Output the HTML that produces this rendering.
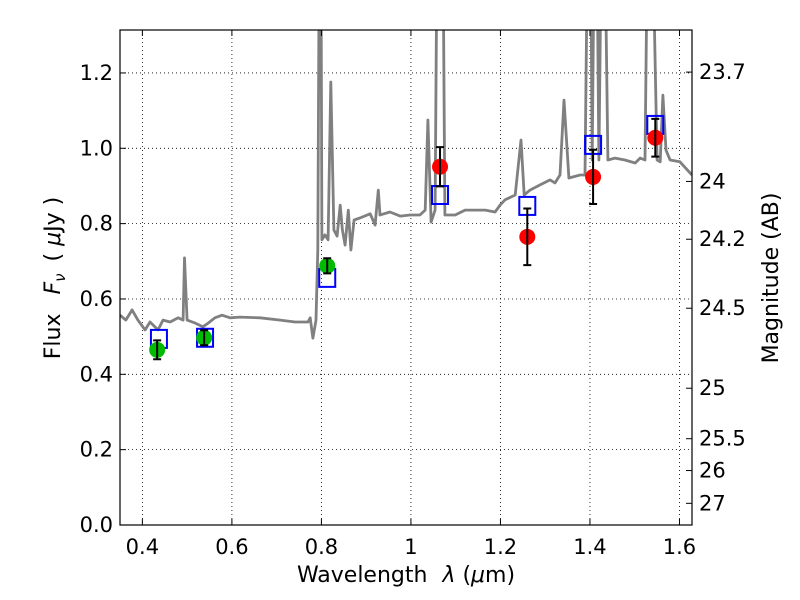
<!DOCTYPE html>
<html><head><meta charset="utf-8"><style>
html,body{margin:0;padding:0;background:#fff;}
svg{display:block;font-family:"DejaVu Sans","Liberation Sans",sans-serif;}
</style></head><body>
<svg id="chart" width="800" height="600" viewBox="0 0 800 600" xmlns="http://www.w3.org/2000/svg">
<defs><clipPath id="clip"><rect x="120" y="30" width="572" height="495"/></clipPath></defs>
<rect width="800" height="600" fill="#fff"/>
<g id="grid"></g>
<g id="spec" clip-path="url(#clip)"></g>
<g id="marks" clip-path="url(#clip)"></g>
<rect x="120" y="30" width="572" height="495" fill="none" stroke="#000" stroke-width="1.2"/>
<g id="axes"></g>
<text x="406" y="582" font-size="22" text-anchor="middle">Wavelength  <tspan font-style="italic" dx="8">λ</tspan> (<tspan font-style="italic">μ</tspan>m)</text>
<text transform="translate(60,278) rotate(-90)" font-size="22" text-anchor="middle">Flux <tspan font-style="italic" dx="12">F</tspan><tspan font-style="italic" font-size="15" dy="5">ν</tspan><tspan dy="-5" dx="12">( </tspan><tspan font-style="italic">μ</tspan>Jy )</text>
<text transform="translate(778,278) rotate(-90)" font-size="22" text-anchor="middle">Magnitude (AB)</text>
</svg>
<script>
const specLam=[0.350,0.363,0.377,0.390,0.406,0.417,0.435,0.446,0.462,0.480,0.491,0.494,0.500,0.518,0.535,0.547,0.562,0.578,0.596,0.618,0.663,0.708,0.741,0.770,0.775,0.781,0.788,0.792,0.795,0.799,0.801,0.808,0.815,0.821,0.828,0.835,0.842,0.847,0.853,0.860,0.866,0.873,0.886,0.909,0.920,0.927,0.931,0.953,0.976,0.998,1.020,1.032,1.038,1.045,1.054,1.058,1.072,1.076,1.099,1.121,1.143,1.166,1.188,1.199,1.210,1.233,1.246,1.253,1.266,1.289,1.311,1.322,1.333,1.342,1.353,1.378,1.389,1.394,1.402,1.405,1.409,1.416,1.420,1.425,1.434,1.440,1.456,1.478,1.501,1.512,1.523,1.528,1.541,1.550,1.557,1.563,1.570,1.579,1.601,1.628];
const specFlux=[0.557,0.544,0.571,0.544,0.518,0.539,0.518,0.544,0.539,0.550,0.544,0.709,0.544,0.536,0.526,0.536,0.550,0.557,0.550,0.552,0.550,0.544,0.539,0.539,0.550,0.496,0.544,0.730,1.5,1.5,0.757,0.770,0.757,1.176,0.783,0.767,0.849,0.783,0.743,0.836,0.730,0.810,0.815,0.826,0.796,0.889,0.823,0.831,0.820,0.823,0.823,0.836,1.075,0.804,0.836,1.5,1.5,0.823,0.823,0.836,0.836,0.836,0.831,0.849,0.863,0.876,1.022,0.876,0.889,0.903,0.916,0.908,0.929,1.128,0.921,0.929,0.929,1.5,1.5,0.969,1.5,1.5,0.969,1.5,1.5,0.969,0.974,0.969,0.961,0.974,0.969,1.5,1.5,0.969,0.964,1.141,0.995,0.969,0.964,0.929];
const obsLam=[0.433,0.538,0.813,1.065,1.260,1.407,1.546];
const obsFlux=[0.465,0.497,0.688,0.951,0.765,0.924,1.028];
const obsErr=[0.025,0.02,0.02,0.052,0.075,0.072,0.05];
const obsColor=['#00bb00','#00bb00','#00bb00','#ff0000','#ff0000','#ff0000','#ff0000'];
const modelLam=[0.437,0.540,0.813,1.065,1.260,1.407,1.546];
const modelFlux=[0.494,0.497,0.656,0.876,0.847,1.009,1.062];
const xTicks=[0.4,0.6,0.8,1.0,1.2,1.4,1.6];
const xTickLabels=['0.4','0.6','0.8','1','1.2','1.4','1.6'];
const yTicks=[0,0.2,0.4,0.6,0.8,1.0,1.2];
const yTickLabels=['0.0','0.2','0.4','0.6','0.8','1.0','1.2'];
const magTicks=[23.7,24,24.2,24.5,25,25.5,26,27];
const magTickLabels=['23.7','24','24.2','24.5','25','25.5','26','27'];

const X0=120,X1=692,Y0=525,Y1=30,xmin=0.35,xmax=1.628,ymin=0,ymax=1.314;
const sx=v=>X0+(v-xmin)/(xmax-xmin)*(X1-X0);
const sy=v=>Y0-(v-ymin)/(ymax-ymin)*(Y0-Y1);
const magToFlux=m=>Math.pow(10,(23.9-m)/2.5);
const NS='http://www.w3.org/2000/svg';
function mk(tag,attrs,parent){const e=document.createElementNS(NS,tag);for(const k in attrs)e.setAttribute(k,attrs[k]);parent.appendChild(e);return e;}
const grid=document.getElementById('grid'),axes=document.getElementById('axes'),spec=document.getElementById('spec'),marks=document.getElementById('marks');

xTicks.forEach((t,i)=>{const x=sx(t);
 const g=mk('line',{x1:x,x2:x,y1:Y1,y2:Y0,stroke:'#000','stroke-width':0.8,'stroke-dasharray':'1,3'},grid);
 
 
 mk('line',{x1:x,x2:x,y1:Y0,y2:Y0-6,stroke:'#000'},axes);
 mk('line',{x1:x,x2:x,y1:Y1,y2:Y1+6,stroke:'#000'},axes);
 const tx=mk('text',{x:x,y:554,'font-size':21,'text-anchor':'middle'},axes);tx.textContent=xTickLabels[i];
 
 
});
yTicks.forEach((t,i)=>{const y=sy(t);
 if(t>0){const g=mk('line',{x1:X0,x2:X1,y1:y,y2:y,stroke:'#000','stroke-width':0.8,'stroke-dasharray':'1,3'},grid);
 
 }
 mk('line',{x1:X0,x2:X0+6,y1:y,y2:y,stroke:'#000'},axes);
 const tx=mk('text',{x:113,y:y+7,'font-size':21,'text-anchor':'end'},axes);tx.textContent=yTickLabels[i];
 
 
});
magTicks.forEach((m,i)=>{const y=sy(magToFlux(m));
 mk('line',{x1:X1-6,x2:X1,y1:y,y2:y,stroke:'#000'},axes);
 const tx=mk('text',{x:699,y:y+7,'font-size':21,'text-anchor':'start'},axes);tx.textContent=magTickLabels[i];
 
 
});
const pts=specLam.map((l,i)=>sx(l).toFixed(1)+','+sy(specFlux[i]).toFixed(1)).join(' ');
const pl=mk('polyline',{points:pts,fill:'none',stroke:'#808080','stroke-width':2.8,'stroke-linejoin':'round'},spec);


modelLam.forEach((l,i)=>{const x=sx(l),y=sy(modelFlux[i]);
 const r=mk('rect',{x:x-8,y:y-9,width:16,height:18,fill:'none',stroke:'#0000ff','stroke-width':2},marks);
 
 
});
obsLam.forEach((l,i)=>{const x=sx(l),y=sy(obsFlux[i]);
 const c=mk('circle',{cx:x,cy:y,r:8,fill:obsColor[i]},marks);
 
 
 const yt=sy(obsFlux[i]+obsErr[i]),yb=sy(obsFlux[i]-obsErr[i]);
 const e=mk('path',{d:`M${x},${yt}V${yb}M${x-4},${yt}H${x+4}M${x-4},${yb}H${x+4}`,stroke:'#000','stroke-width':2,fill:'none'},marks);
 
 
});
</script>
</body></html>
